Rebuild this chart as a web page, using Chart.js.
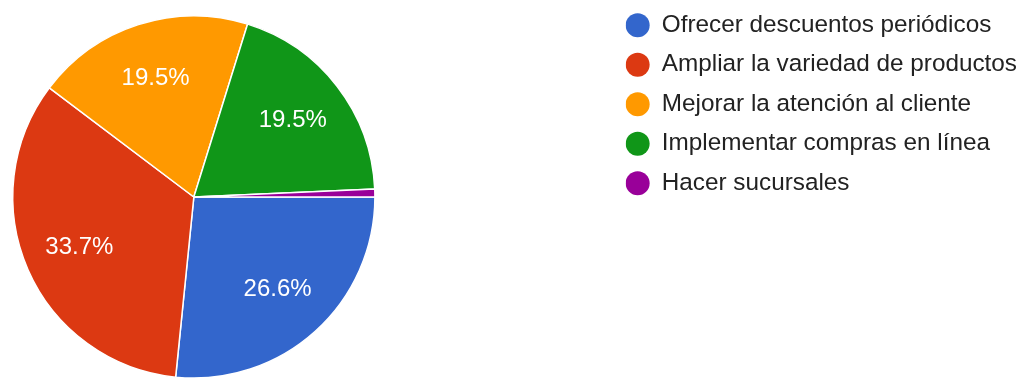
<!DOCTYPE html>
<html>
<head>
<meta charset="utf-8">
<script src="https://cdn.jsdelivr.net/npm/chart.js@4/dist/chart.umd.min.js"></script>
<style>
  html, body { margin: 0; padding: 0; background: #fff; }
  canvas { display: block; }
</style>
</head>
<body>
<canvas id="pieChart" width="1023" height="381"></canvas>
<script>
const labels = [
  'Ofrecer descuentos periódicos',
  'Ampliar la variedad de productos',
  'Mejorar la atención al cliente',
  'Implementar compras en línea',
  'Hacer sucursales'
];
const percentages = [26.6, 33.7, 19.5, 19.5, 0.7];
const colors = ['#3366cc', '#dc3912', '#ff9900', '#109618', '#990099'];

const FONT = '"Liberation Sans", Arial, sans-serif';

// empty layout box between the pie and the legend
const legendGap = {
  id: 'legendGap',
  beforeInit(chart, args, opts) {
    const box = {
      position: 'right',
      weight: 0,
      fullSize: false,
      options: {},
      left: 0, top: 0, right: 0, bottom: 0, width: 0, height: 0,
      isHorizontal() { return false; },
      update(maxWidth, maxHeight) {
        this.width = opts.width;
        this.height = maxHeight;
      },
      draw() {}
    };
    Chart.layouts.addBox(chart, box);
  }
};

// percentage text inside each slice
const sliceLabels = {
  id: 'sliceLabels',
  afterDatasetsDraw(chart) {
    const ctx = chart.ctx;
    const data = chart.data.datasets[0].data;
    const total = data.reduce((a, b) => a + b, 0);
    ctx.save();
    ctx.font = '24px ' + FONT;
    ctx.fillStyle = '#ffffff';
    ctx.textAlign = 'center';
    ctx.textBaseline = 'middle';
    chart.getDatasetMeta(0).data.forEach((arc, i) => {
      const pct = data[i] / total * 100;
      if (pct < 1) return;
      const p = arc.getProps(['x', 'y', 'startAngle', 'endAngle', 'outerRadius'], true);
      const mid = (p.startAngle + p.endAngle) / 2;
      const r = p.outerRadius * 0.69;
      ctx.fillText(pct.toFixed(1) + '%', p.x + Math.cos(mid) * r, p.y + Math.sin(mid) * r);
    });
    ctx.restore();
  }
};

new Chart(document.getElementById('pieChart'), {
  type: 'pie',
  data: {
    labels: labels,
    datasets: [{
      data: percentages,
      backgroundColor: colors,
      borderColor: '#ffffff',
      borderWidth: 1.5
    }]
  },
  options: {
    responsive: false,
    animation: false,
    rotation: 90,
    layout: { padding: { left: 12, top: 13, right: -4, bottom: 0 } },
    plugins: {
      legendGap: { width: 250 },
      tooltip: { enabled: false },
      legend: {
        position: 'right',
        align: 'start',
        maxWidth: 500,
        labels: {
          usePointStyle: true,
          pointStyle: 'circle',
          pointStyleWidth: 24,
          boxHeight: 17,
          padding: 0,
          color: '#222222',
          font: { family: FONT, size: 24.3, lineHeight: '39.5px' },
          generateLabels(chart) {
            const items = Chart.overrides.doughnut.plugins.legend.labels.generateLabels(chart);
            // one-line arrays so the row spacing follows the font line height
            return items.map(item => Object.assign(item, { text: [item.text], lineWidth: 0 }));
          }
        }
      }
    }
  },
  plugins: [legendGap, sliceLabels]
});
</script>
</body>
</html>
